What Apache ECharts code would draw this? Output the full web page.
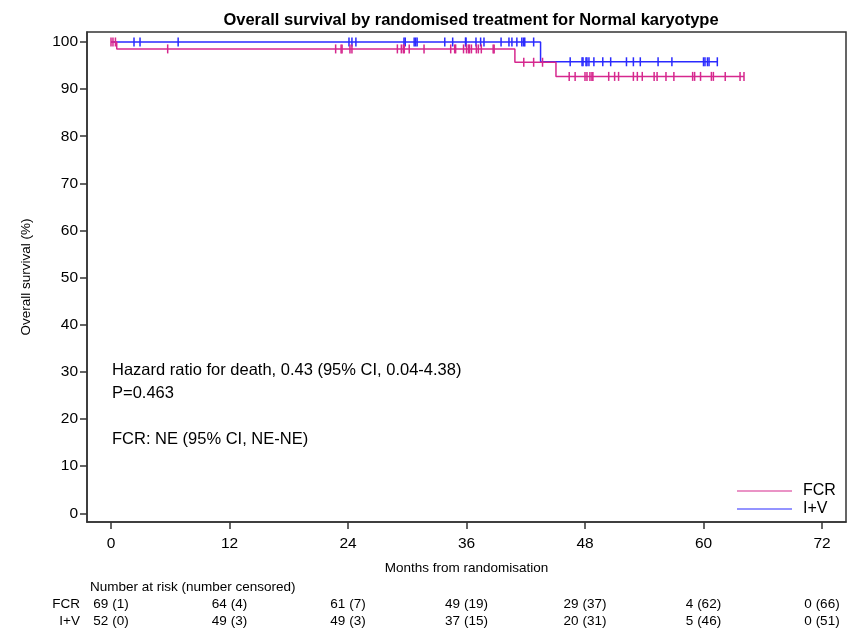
<!DOCTYPE html>
<html>
<head>
<meta charset="utf-8">
<script src="https://cdn.jsdelivr.net/npm/echarts@6/dist/echarts.min.js"></script>
<style>
html,body{margin:0;padding:0;background:#fff;}
#chart{width:856px;height:635px;}
</style>
</head>
<body>
<div id="chart"></div>
<script>
// ---- Data ----
const monthTicks = [0, 12, 24, 36, 48, 60, 72];
const survTicks = [0, 10, 20, 30, 40, 50, 60, 70, 80, 90, 100];

// Kaplan-Meier step points (time in months, survival %)
const fcrTimes = [0, 0.58, 40.9, 45.06, 64.1];
const fcrSurv = [100, 98.53, 95.7, 92.7, 92.7];
const ivTimes = [0, 43.5, 61.4];
const ivSurv = [100, 95.8, 95.8];

// Censoring times
const fcrCensor = [0.0, 0.2, 0.45, 5.74, 22.75, 23.3, 23.4, 24.2, 24.4, 29.0, 29.4, 29.6, 29.7, 30.2, 31.7,
  34.4, 34.8, 34.9, 35.7, 36.0, 36.2, 36.3, 36.5, 37.0, 37.2, 37.5, 38.7, 38.8,
  41.8, 42.8, 43.7,
  46.4, 47.0, 48.0, 48.2, 48.5, 48.7, 48.8, 50.4, 51.0, 51.4, 52.9, 53.3, 53.8, 55.0, 55.3, 56.2, 57.0,
  58.9, 59.1, 59.7, 60.8, 61.0, 62.2, 63.7, 64.1];
const ivCensor = [2.33, 2.94, 6.8, 24.1, 24.4, 24.8, 29.67, 29.8, 30.7, 30.85, 31.0, 33.8, 34.6, 35.9, 35.95,
  36.96, 37.43, 37.77, 39.5, 40.3, 40.6, 41.1, 41.6, 41.77, 41.9, 42.8,
  46.5, 47.7, 47.8, 48.1, 48.2, 48.4, 48.9, 49.8, 50.6, 52.2, 52.9, 53.6, 55.4, 56.8, 60.0, 60.15, 60.4, 60.56, 61.4];

// Number at risk table
const riskGroups = ['FCR', 'I+V'];
const fcrAtRisk = [69, 64, 61, 49, 29, 4, 0];
const fcrCensored = [1, 4, 7, 19, 37, 62, 66];
const ivAtRisk = [52, 49, 49, 37, 20, 5, 0];
const ivCensored = [0, 3, 3, 15, 31, 46, 51];

const annotations = [
  'Hazard ratio for death, 0.43 (95% CI, 0.04-4.38)',
  'P=0.463',
  'FCR: NE (95% CI, NE-NE)'
];

// ---- Build ----
const FCR_COLOR = '#d6288e';
const IV_COLOR = '#2a2aff';
const FONT = '"Liberation Sans", Arial, sans-serif';

function stepValue(times, surv, t) {
  let v = surv[0];
  for (let i = 0; i < times.length; i++) { if (times[i] <= t) v = surv[i]; }
  return v;
}
const fcrLine = fcrTimes.map((t, i) => [t, fcrSurv[i]]);
const ivLine = ivTimes.map((t, i) => [t, ivSurv[i]]);
const fcrMarks = fcrCensor.map(t => [t, stepValue(fcrTimes, fcrSurv, t)]);
const ivMarks = ivCensor.map(t => [t, stepValue(ivTimes, ivSurv, t)]);

const riskData = [];
monthTicks.forEach((m, i) => {
  riskData.push({ name: fcrAtRisk[i] + ' (' + fcrCensored[i] + ')', value: [m, 'FCR'] });
  riskData.push({ name: ivAtRisk[i] + ' (' + ivCensored[i] + ')', value: [m, 'I+V'] });
});

const XMIN = -2.43, XMAX = 74.43;

const chart = echarts.init(document.getElementById('chart'), null, { renderer: 'canvas' });
chart.setOption({
  animation: false,
  backgroundColor: '#fff',
  textStyle: { fontFamily: FONT },
  title: [{
    text: 'Overall survival by randomised treatment for Normal karyotype',
    left: 466, top: 7, textAlign: 'center',
    textStyle: { fontFamily: FONT, fontSize: 16.5, fontWeight: 'bold', color: '#000' }
  }, {
    text: 'Number at risk (number censored)',
    left: 85, top: 575,
    textStyle: { fontFamily: FONT, fontSize: 13.5, fontWeight: 'normal', color: '#000' }
  }],
  legend: {
    data: [{ name: 'FCR', icon: 'rect' }, { name: 'I+V', icon: 'rect' }],
    orient: 'vertical',
    left: 737, top: 482, padding: 0,
    itemWidth: 55, itemHeight: 1.2, itemGap: 0,
    textStyle: { fontFamily: FONT, fontSize: 16, color: '#000', lineHeight: 18, padding: [0, 0, 0, 6] }
  },
  grid: [{
    left: 87, top: 32, right: 10, bottom: 113,
    show: true, borderColor: '#333', borderWidth: 1.5, containLabel: false
  }, {
    left: 87, top: 596, right: 10, height: 34, show: false
  }],
  xAxis: [{
    type: 'value', gridIndex: 0, min: XMIN, max: XMAX,
    name: 'Months from randomisation', nameLocation: 'middle', nameGap: 39,
    nameTextStyle: { fontFamily: FONT, fontSize: 13.5, color: '#000' },
    axisLine: { show: true, onZero: false, lineStyle: { color: '#333', width: 1.5 } },
    axisTick: { show: true, length: 7, customValues: monthTicks, lineStyle: { color: '#333', width: 1.5 } },
    axisLabel: { customValues: monthTicks, fontSize: 15.5, color: '#000', margin: 14, fontFamily: FONT },
    splitLine: { show: false }
  }, {
    type: 'value', gridIndex: 1, min: XMIN, max: XMAX, show: false
  }],
  yAxis: [{
    type: 'value', gridIndex: 0, min: -1.85, max: 102.12,
    name: 'Overall survival (%)', nameLocation: 'middle', nameGap: 54, nameRotate: 90,
    nameTextStyle: { fontFamily: FONT, fontSize: 13.5, color: '#000' },
    axisLine: { show: true, onZero: false, lineStyle: { color: '#333', width: 1.5 } },
    axisTick: { show: true, length: 7, customValues: survTicks, lineStyle: { color: '#333', width: 1.5 } },
    axisLabel: { customValues: survTicks, fontSize: 15.5, color: '#000', margin: 9, fontFamily: FONT },
    splitLine: { show: false }
  }, {
    type: 'category', gridIndex: 1, data: riskGroups, inverse: true,
    axisLine: { show: false }, axisTick: { show: false },
    axisLabel: { interval: 0, hideOverlap: false, fontSize: 13.5, color: '#000', margin: 7, fontFamily: FONT }
  }],
  graphic: annotations.map((t, i) => ({
    type: 'text', left: 112, top: [362, 385, 431][i],
    style: { text: t, fontFamily: FONT, fontSize: 16.5, fill: '#000' }
  })),
  series: [{
    name: 'I+V', type: 'line', xAxisIndex: 0, yAxisIndex: 0, data: ivLine, step: 'end',
    symbol: 'none', lineStyle: { color: IV_COLOR, width: 1.5 }, itemStyle: { color: IV_COLOR }, z: 2
  }, {
    name: 'I+V censored', type: 'scatter', xAxisIndex: 0, yAxisIndex: 0, data: ivMarks,
    symbol: 'rect', symbolSize: [1.5, 9], itemStyle: { color: IV_COLOR, opacity: 1 }, z: 3
  }, {
    name: 'FCR', type: 'line', xAxisIndex: 0, yAxisIndex: 0, data: fcrLine, step: 'end',
    symbol: 'none', lineStyle: { color: FCR_COLOR, width: 1.5 }, itemStyle: { color: FCR_COLOR }, z: 4
  }, {
    name: 'FCR censored', type: 'scatter', xAxisIndex: 0, yAxisIndex: 0, data: fcrMarks,
    symbol: 'rect', symbolSize: [1.5, 9], itemStyle: { color: FCR_COLOR, opacity: 1 }, z: 5
  }, {
    name: 'risk', type: 'scatter', xAxisIndex: 1, yAxisIndex: 1, data: riskData,
    symbol: 'circle', symbolSize: 1, itemStyle: { color: 'rgba(0,0,0,0)', opacity: 1 },
    label: { show: true, position: 'inside', formatter: '{b}', fontSize: 13.5, color: '#000', fontFamily: FONT },
    labelLayout: { hideOverlap: false },
    silent: true
  }]
});
</script>
</body>
</html>
